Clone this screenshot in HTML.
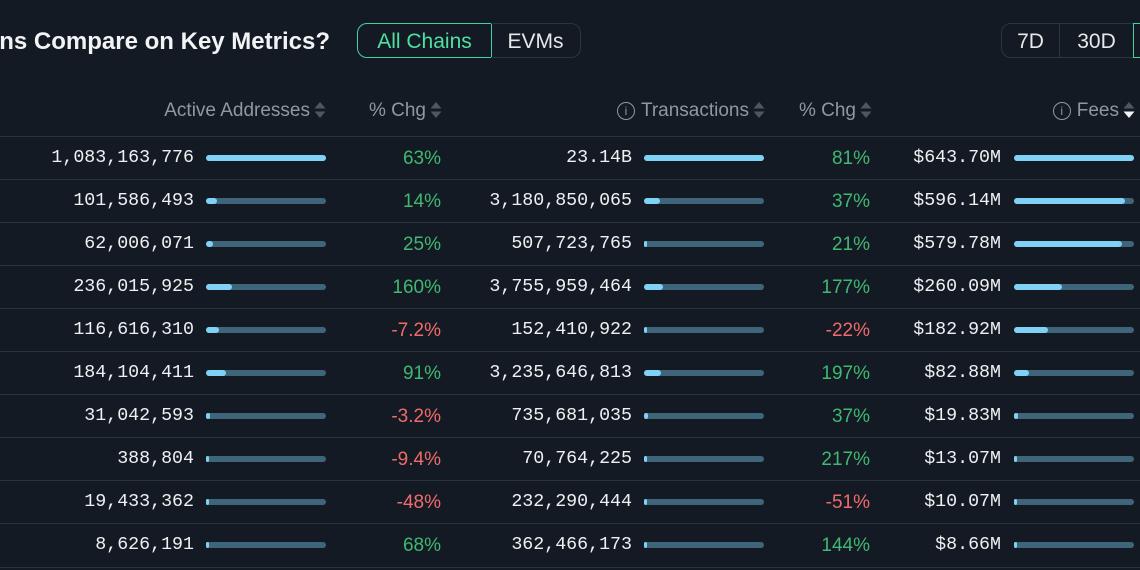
<!DOCTYPE html>
<html><head><meta charset="utf-8"><style>
body{margin:0;width:1140px;height:570px;overflow:hidden;background:#141a23;position:relative;font-family:"Liberation Sans",sans-serif;}
.a{position:absolute;white-space:nowrap}
.t{font-size:24px;font-weight:bold;color:#f1f3f5;top:28px;right:810px}
.btn{position:absolute;top:23px;height:35px;line-height:35px;font-size:21px;color:#e6e8ea;text-align:center;box-sizing:border-box}
.h{font-size:19px;color:#8f98a2;top:100px}
.num{font-family:"Liberation Mono",monospace;font-size:18.3px;color:#eef0f2;text-align:right}
.pc{font-size:19px;text-align:right}
.g{color:#3fb871}.r{color:#ef6b6b}
.bar{position:absolute;height:6px;border-radius:3px;background:#3e6579;width:120px}
.bar i{display:block;height:6px;border-radius:3px;background:#7fd2f5}
.line{position:absolute;left:0;width:1140px;height:1px;background:#2a323c}
.ar{display:inline-block;margin-left:4px;vertical-align:-3px}
.info{display:inline-block;width:16px;height:16px;border:1.3px solid #8f98a2;border-radius:50%;font-size:12px;line-height:16px;text-align:center;margin-right:6px;vertical-align:1px}
</style></head><body>
<div class="a t">ns Compare on Key Metrics?</div>
<div class="btn" style="left:357px;width:135px;border:1px solid #3fd59a;border-radius:10px 0 0 10px;color:#4ee0a0">All Chains</div>
<div class="btn" style="left:491px;width:90px;border:1px solid #2c343e;border-left:none;border-radius:0 10px 10px 0">EVMs</div>
<div class="btn" style="left:1001px;width:59px;border:1px solid #2c343e;border-radius:10px 0 0 10px">7D</div>
<div class="btn" style="left:1059px;width:75px;border:1px solid #2c343e;border-left:1px solid #2c343e">30D</div>
<div class="btn" style="left:1133px;width:20px;border:1px solid #3fd59a"></div>
<div id="rows"></div>
<script>
function ar(act){return '<svg class="ar" width="12" height="18" viewBox="0 0 12 18"><path d="M6 1L11.5 7.5H0.5Z" fill="#4d5661"/><path d="M6 17L11.5 10.5H0.5Z" fill="'+(act?'#f1f3f5':'#4d5661')+'"/></svg>';}
var hd='';
hd+='<div class="a h" style="right:814px">Active Addresses'+ar()+'</div>';
hd+='<div class="a h" style="right:698px">% Chg'+ar()+'</div>';
hd+='<div class="a h" style="right:375px"><span class="info">i</span>Transactions'+ar()+'</div>';
hd+='<div class="a h" style="right:268px">% Chg'+ar()+'</div>';
hd+='<div class="a h" style="right:5px"><span class="info">i</span>Fees'+ar(1)+'</div>';
var d=[
["1,083,163,776",120,"63%",1,"23.14B",120,"81%",1,"$643.70M",120],
["101,586,493",11,"14%",1,"3,180,850,065",16,"37%",1,"$596.14M",111],
["62,006,071",7,"25%",1,"507,723,765",3,"21%",1,"$579.78M",108],
["236,015,925",26,"160%",1,"3,755,959,464",19,"177%",1,"$260.09M",48],
["116,616,310",13,"-7.2%",0,"152,410,922",1,"-22%",0,"$182.92M",34],
["184,104,411",20,"91%",1,"3,235,646,813",17,"197%",1,"$82.88M",15],
["31,042,593",4,"-3.2%",0,"735,681,035",4,"37%",1,"$19.83M",4],
["388,804",0,"-9.4%",0,"70,764,225",0,"217%",1,"$13.07M",2],
["19,433,362",2,"-48%",0,"232,290,444",1,"-51%",0,"$10.07M",2],
["8,626,191",1,"68%",1,"362,466,173",2,"144%",1,"$8.66M",2]];
var tx=[120,16,3,19,1,17,4,0,1,2],tc=[1,1,1,1,0,1,1,1,0,1];
var h=hd;
for(var i=0;i<10;i++){var r=d[i],y=158+43*i;
h+='<div class="line" style="top:'+(y-22)+'px"></div>';
h+='<div class="a num" style="right:946px;top:'+(y-10)+'px">'+r[0]+'</div>';
h+='<div class="bar" style="left:206px;top:'+(y-3)+'px"><i style="width:'+Math.max(r[1],3)+'px"></i></div>';
h+='<div class="a pc '+(r[3]?'g':'r')+'" style="right:699px;top:'+(y-10)+'px">'+r[2]+'</div>';
h+='<div class="a num" style="right:508px;top:'+(y-10)+'px">'+r[4]+'</div>';
h+='<div class="bar" style="left:644px;top:'+(y-3)+'px"><i style="width:'+Math.max(tx[i],3)+'px"></i></div>';
h+='<div class="a pc '+(tc[i]?'g':'r')+'" style="right:270px;top:'+(y-10)+'px">'+r[6]+'</div>';
h+='<div class="a num" style="right:139px;top:'+(y-10)+'px">'+r[8]+'</div>';
h+='<div class="bar" style="left:1014px;top:'+(y-3)+'px"><i style="width:'+Math.max(r[9],3)+'px"></i></div>';
}
h+='<div class="line" style="top:567px"></div>';
document.getElementById('rows').innerHTML=h;
</script>
</body></html>
